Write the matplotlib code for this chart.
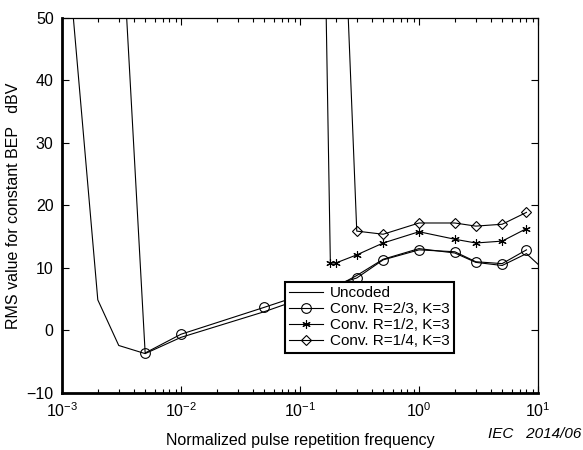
import matplotlib.pyplot as plt

plt.rcParams["font.family"] = ["Liberation Sans", "DejaVu Sans"]

# data
uncoded_x = [0.001, 0.002, 0.003, 0.005, 0.01, 0.05, 0.1, 0.2, 0.3, 0.5, 1, 2, 3, 5, 8, 10]
uncoded_y = [71, 4.9, -2.4, -3.7, -1.1, 3.0, 5.0, 7.0, 8.8, 11.4, 13.1, 12.4, 10.9, 10.4, 12.3, 10.6]

r23_x = [0.003, 0.005, 0.01, 0.05, 0.1, 0.3, 0.5, 1, 2, 3, 5, 8]
r23_y = [73, -3.6, -0.6, 3.7, 5.6, 8.4, 11.3, 12.9, 12.6, 11.0, 10.7, 12.9]

r12_x = [0.15, 0.18, 0.2, 0.3, 0.5, 1, 2, 3, 5, 8]
r12_y = [100, 10.8, 10.8, 12.1, 14.0, 15.8, 14.6, 14.0, 14.3, 16.3]

r14_x = [0.2, 0.3, 0.5, 1, 2, 3, 5, 8]
r14_y = [100, 15.9, 15.4, 17.2, 17.2, 16.7, 17.0, 18.9]

labels = ["Uncoded", "Conv. R=2/3, K=3", "Conv. R=1/2, K=3", "Conv. R=1/4, K=3"]

fig = plt.figure(figsize=(5.83, 4.5), dpi=100)
ax = fig.add_axes([0.1063, 0.1267, 0.8165, 0.8333])

lw = 0.8
ax.plot(uncoded_x, uncoded_y, color="black", lw=lw, label=labels[0])
ax.plot(r23_x, r23_y, color="black", lw=lw, marker="o", ms=7,
        mfc="none", mew=0.8, label=labels[1])
ax.plot(r12_x, r12_y, color="black", lw=lw, marker=(6, 2, 0), ms=6,
        mew=0.8, label=labels[2])
ax.plot(r14_x, r14_y, color="black", lw=lw, marker="D", ms=5.5,
        mfc="none", mew=0.8, label=labels[3])

ax.set_xscale("log")
ax.set_xlim(1e-3, 1e1)
ax.set_ylim(-10, 50)
ax.set_yticks([-10, 0, 10, 20, 30, 40, 50])

ax.tick_params(which="both", direction="in", top=True, right=True,
               labelsize=11.5, width=0.8)
ax.tick_params(which="major", length=5, pad=6)
ax.tick_params(which="minor", length=3)

for side in ["left", "bottom"]:
    ax.spines[side].set_linewidth(2.0)
for side in ["top", "right"]:
    ax.spines[side].set_linewidth(0.9)

ax.set_xlabel("Normalized pulse repetition frequency", fontsize=11.5, labelpad=9)
ax.set_ylabel("RMS value for constant BEP   dBV", fontsize=11.5, labelpad=4)

leg = ax.legend(loc="upper left", bbox_to_anchor=(0.468, 0.296),
                borderaxespad=0, fontsize=11, fancybox=False,
                edgecolor="black", framealpha=1, handlelength=2.2,
                labelspacing=0.13, borderpad=0.28, handletextpad=0.5)
leg.get_frame().set_linewidth(1.5)

fig.text(0.998, 0.02, "IEC   2014/06", ha="right", va="bottom",
         fontsize=11, fontstyle="italic")

fig.savefig("out.png", dpi=100)
